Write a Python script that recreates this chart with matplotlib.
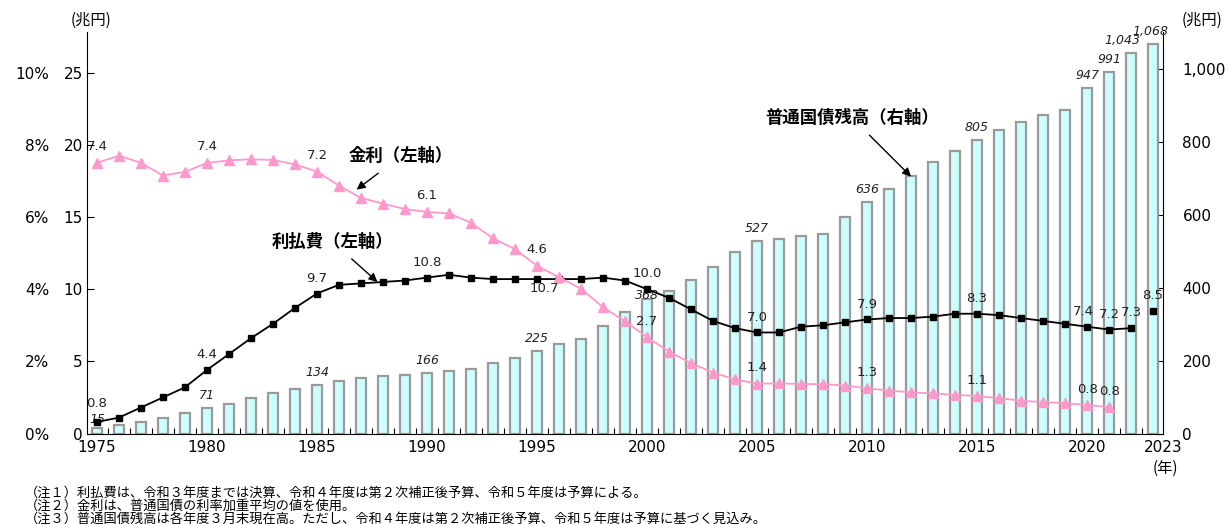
import matplotlib
matplotlib.use("Agg")
import matplotlib.pyplot as plt

JP = ["Noto Sans CJK JP", "DejaVu Sans"]
plt.rcParams["font.family"] = ["DejaVu Sans", "Noto Sans CJK JP"]

# ---- data ----
years = list(range(1975, 2024))

# 普通国債残高（兆円, 右軸）
balance = [15, 22, 32, 43, 56, 71, 82, 96, 110, 122,
           134, 145, 152, 157, 161, 166, 172, 178, 193, 207,
           225, 245, 258, 295, 332, 368, 392, 421, 457, 499,
           527, 532, 541, 546, 594, 636, 670, 705, 744, 774,
           805, 831, 853, 874, 887, 947, 991, 1043, 1068]

# 利払費（兆円, 左軸）  2023 is drawn apart from the line
interest = [0.8, 1.1, 1.8, 2.5, 3.2, 4.4, 5.5, 6.6, 7.6, 8.7,
            9.7, 10.3, 10.4, 10.5, 10.6, 10.8, 11.0, 10.8, 10.7, 10.7,
            10.7, 10.7, 10.7, 10.8, 10.6, 10.0, 9.4, 8.6, 7.8, 7.3,
            7.0, 7.0, 7.4, 7.5, 7.7, 7.9, 8.0, 8.0, 8.1, 8.3,
            8.3, 8.2, 8.0, 7.8, 7.6, 7.4, 7.2, 7.3]
interest_2023 = 8.5

# 金利（%, 左軸）  1975-2021
rate = [7.5, 7.7, 7.5, 7.15, 7.25, 7.5, 7.57, 7.6, 7.58, 7.46,
        7.26, 6.87, 6.53, 6.37, 6.22, 6.14, 6.1, 5.84, 5.41, 5.11,
        4.65, 4.33, 4.01, 3.5, 3.11, 2.67, 2.27, 1.95, 1.69, 1.5,
        1.38, 1.39, 1.37, 1.37, 1.33, 1.25, 1.19, 1.14, 1.11, 1.07,
        1.04, 0.98, 0.91, 0.87, 0.84, 0.79, 0.73]

balance_labels = {1975: "15", 1980: "71", 1985: "134", 1990: "166", 1995: "225",
                  2000: "368", 2005: "527", 2010: "636", 2015: "805",
                  2020: "947", 2021: "991", 2022: "1,043", 2023: "1,068"}
interest_labels = {1975: "0.8", 1980: "4.4", 1985: "9.7", 1990: "10.8", 1995: "10.7",
                   2000: "10.0", 2005: "7.0", 2010: "7.9", 2015: "8.3",
                   2020: "7.4", 2021: "7.2", 2022: "7.3", 2023: "8.5"}
rate_labels = {1975: "7.4", 1980: "7.4", 1985: "7.2", 1990: "6.1", 1995: "4.6",
               2000: "2.7", 2005: "1.4", 2010: "1.3", 2015: "1.1",
               2020: "0.8", 2021: "0.8"}

notes = [
    "（注１）利払費は、令和３年度までは決算、令和４年度は第２次補正後予算、令和５年度は予算による。",
    "（注２）金利は、普通国債の利率加重平均の値を使用。",
    "（注３）普通国債残高は各年度３月末現在高。ただし、令和４年度は第２次補正後予算、令和５年度は予算に基づく見込み。",
]

# ---- figure ----
W, H = 1232, 524
fig = plt.figure(figsize=(W / 100, H / 100), dpi=100)
axl = fig.add_axes([87 / W, 1 - 433.5 / H, (1163 - 87) / W, (433.5 - 32) / H])
axr = axl.twinx()
axp = axl.twinx()

# bars behind, then 利払費, then 金利 on top
axr.set_zorder(1)
axl.set_zorder(2)
axp.set_zorder(3)
axl.patch.set_visible(False)
axp.patch.set_visible(False)

idx = list(range(len(years)))
x_lo, x_hi = -0.45, len(years) - 1 + 0.45
left_top = 27.82
axl.set_xlim(x_lo, x_hi)
axl.set_ylim(0, left_top)
axr.set_ylim(0, 1101)
axp.set_ylim(0, left_top / 2.5)   # 10% <-> 25兆円

# bars
axr.bar(idx, balance, width=0.43, color="#ccffff", edgecolor="#9a9a9a", linewidth=1.6, zorder=2)
for y, s in balance_labels.items():
    i = years.index(y)
    dx, dy = 0, 9
    if y == 2000:
        dy = 3
    if y == 1975:
        dy = 6
    if y == 2022:
        dx = -6
    if y == 2023:
        dx = -2
    axr.annotate(s, (i, balance[i]), xytext=(dx, dy), textcoords="offset points",
                 ha="center", va="center", fontsize=9, style="italic", color="#222222")

# interest payments
axl.plot(idx[:len(interest)], interest, color="black", lw=1.3, marker="s", ms=5, zorder=3)
axl.plot([idx[-1]], [interest_2023], color="black", marker="s", ms=5, ls="none", zorder=3)
for y, s in interest_labels.items():
    i = years.index(y)
    v = interest_2023 if y == 2023 else interest[i]
    dx, dy = (5, -7) if y == 1995 else (0, 11)
    if y == 2020:
        dx = -3
    if y == 1975:
        dy = 13
    axl.annotate(s, (i, v), xytext=(dx, dy), textcoords="offset points",
                 ha="center", va="center", fontsize=9.5, color="#222222")

# rate
axp.plot(idx[:len(rate)], rate, color="#ff99cc", lw=1.3, marker="^", ms=7, zorder=3)
for y, s in rate_labels.items():
    i = years.index(y)
    axp.annotate(s, (i, rate[i]), xytext=(0, 11.5), textcoords="offset points",
                 ha="center", va="center", fontsize=9.5, color="#222222")

# ---- axes styling ----
for a in (axl, axr, axp):
    a.spines["top"].set_visible(False)
axl.spines["right"].set_visible(False)
axr.spines["left"].set_visible(False)
axr.spines["bottom"].set_visible(False)
for sp in axp.spines.values():
    sp.set_visible(False)

axl.set_yticks([0, 5, 10, 15, 20, 25])
axl.tick_params(axis="y", direction="in", length=5, pad=3, labelsize=11)
axr.set_yticks([0, 200, 400, 600, 800, 1000])
axr.set_yticklabels(["0", "200", "400", "600", "800", "1,000"])
axr.tick_params(axis="y", direction="in", length=5, pad=14, labelsize=11)

axp.yaxis.set_ticks_position("left")
axp.set_yticks([0, 2, 4, 6, 8, 10])
axp.set_yticklabels([f"{v}%" for v in [0, 2, 4, 6, 8, 10]])
axp.tick_params(axis="y", length=0, pad=27, labelsize=11)

major = [years.index(y) for y in range(1975, 2021, 5)] + [x_hi]
axl.set_xticks(major)
axl.set_xticklabels([str(y) for y in range(1975, 2021, 5)] + ["2023"])
axl.set_xticks([i + 0.5 for i in idx[:-1]], minor=True)
axl.tick_params(axis="x", which="major", length=0, pad=5, labelsize=11)
axl.tick_params(axis="x", which="minor", direction="in", length=4, width=0.8)

# unit labels
fig.text(91 / W, 1 - 20 / H, "(兆円)", fontsize=11, family=JP, ha="center", va="center")
fig.text(1202 / W, 1 - 20 / H, "(兆円)", fontsize=11, family=JP, ha="center", va="center")
fig.text(1165 / W, 1 - 468 / H, "(年)", fontsize=11, family=JP, ha="center", va="center")

# series annotations
axl.annotate("金利（左軸）", xy=(11.8, 16.9), xytext=(13.8, 19.2),
             fontsize=12.5, fontweight="bold", family=JP, ha="center", va="center",
             arrowprops=dict(arrowstyle="-|>", color="black", lw=1, shrinkA=6, shrinkB=0))
axl.annotate("利払費（左軸）", xy=(12.75, 10.5), xytext=(10.7, 13.3),
             fontsize=12.5, fontweight="bold", family=JP, ha="center", va="center",
             arrowprops=dict(arrowstyle="-|>", color="black", lw=1, shrinkA=6, shrinkB=0))
axl.annotate("普通国債残高（右軸）", xy=(37.0, 17.8), xytext=(34.3, 21.9),
             fontsize=12.5, fontweight="bold", family=JP, ha="center", va="center",
             arrowprops=dict(arrowstyle="-|>", color="black", lw=1, shrinkA=6, shrinkB=0))

# notes
for k, line in enumerate(notes):
    fig.text(25 / W, 1 - (493 + 13 * k) / H, line, fontsize=9.5, family=JP, ha="left", va="center")

fig.savefig("out.png", dpi=100)
